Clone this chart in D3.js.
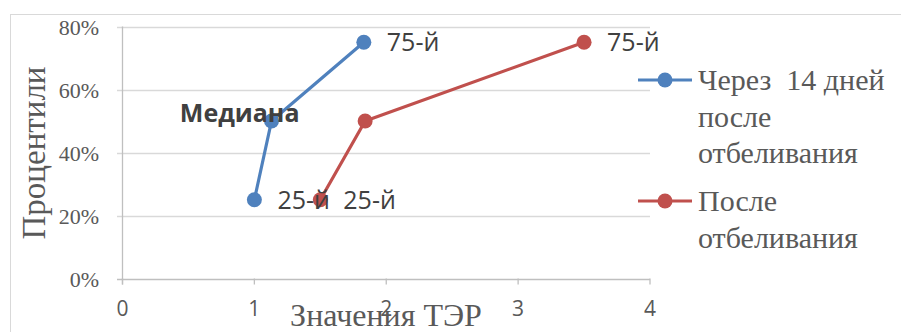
<!DOCTYPE html>
<html lang="ru">
  <head>
    <meta charset="utf-8">
    <script src="https://d3js.org/d3.v7.min.js"></script>
    <style>
      body { margin: 0; background: #fff; }
      svg { display: block; }
    </style>
  </head>
  <body>
    <script>

    // data
    var percentiles = [0.25, 0.5, 0.75];
    var blueX = [1.0, 1.13, 1.83];
    var redX = [1.5, 1.84, 3.5];
    var blueLabels = ["25-й", "Медиана", "75-й"];
    var redLabels = ["25-й", "", "75-й"];
    var seriesNames = [["Через  14 дней", "после", "отбеливания"], ["После", "отбеливания"]];
    var seriesColors = ["#4f81bd", "#c0504d"];
    var xTicks = [0, 1, 2, 3, 4];
    var yTicks = [0, 0.2, 0.4, 0.6, 0.8];

    var W = 901, H = 332;

    var x = d3.scaleLinear().domain([0, 4]).range([122.5, 650]);
    var y = d3.scaleLinear().domain([0, 0.8]).range([278.5, 26.5]);

    var svg = d3.select("body").append("svg")
        .attr("width", W)
        .attr("height", H);

    // chart frame
    svg.append("rect")
        .attr("x", 10.5).attr("y", 14.5)
        .attr("width", 900).attr("height", 330)
        .attr("fill", "none")
        .attr("stroke", "#d9d9d9");

    // gridlines
    svg.append("g")
      .selectAll("line")
      .data(yTicks)
      .enter().append("line")
        .attr("x1", 117).attr("x2", x(4))
        .attr("y1", function(d){ return Math.round(y(d)) + 0.5; })
        .attr("y2", function(d){ return Math.round(y(d)) + 0.5; })
        .attr("stroke", function(d){ return d === 0 ? "#bfbfbf" : "#d9d9d9"; })
        .attr("stroke-width", 1.3);

    // y axis line
    svg.append("line")
        .attr("x1", x(0)).attr("x2", x(0))
        .attr("y1", y(0.8)).attr("y2", y(0) + 6)
        .attr("stroke", "#bfbfbf").attr("stroke-width", 1.3);

    // x ticks
    svg.append("g")
      .selectAll("line")
      .data(xTicks)
      .enter().append("line")
        .attr("x1", function(d){ return x(d); })
        .attr("x2", function(d){ return x(d); })
        .attr("y1", y(0)).attr("y2", y(0) + 6)
        .attr("stroke", "#bfbfbf").attr("stroke-width", 1.3);

    svg.append("g")
      .selectAll("text")
      .data(xTicks)
      .enter().append("text")
        .attr("x", function(d){ return x(d); })
        .attr("y", 316)
        .attr("text-anchor", "middle")
        .attr("font-family", "'Open Sans', sans-serif")
        .attr("font-size", 21)
        .attr("fill", "#595959")
        .text(function(d){ return d; });

    svg.append("g")
      .selectAll("text")
      .data(yTicks)
      .enter().append("text")
        .attr("x", 99)
        .attr("y", function(d){ return y(d) + 8; })
        .attr("text-anchor", "end")
        .attr("font-family", "'Liberation Serif', serif")
        .attr("font-size", 22)
        .attr("fill", "#595959")
        .text(function(d){ return Math.round(d * 100) + "%"; });

    // axis titles
    svg.append("text")
        .attr("transform", "translate(45,153) rotate(-90)")
        .attr("text-anchor", "middle")
        .attr("font-family", "'Liberation Serif', serif")
        .attr("font-size", 33)
        .attr("fill", "#595959")
        .text("Процентили");

    svg.append("text")
        .attr("x", 386).attr("y", 326)
        .attr("text-anchor", "middle")
        .attr("font-family", "'Liberation Serif', serif")
        .attr("font-size", 32)
        .attr("fill", "#595959")
        .text("Значения ТЭР");

    var series = [
      { xs: blueX, labels: blueLabels, color: seriesColors[0] },
      { xs: redX, labels: redLabels, color: seriesColors[1] }
    ];

    var line = d3.line()
        .x(function(d){ return x(d.x); })
        .y(function(d){ return y(d.y); });

    series.forEach(function(s){
      var pts = s.xs.map(function(v, i){ return { x: v, y: percentiles[i], label: s.labels[i] }; });
      s.pts = pts;
      svg.append("path")
          .datum(pts)
          .attr("d", line)
          .attr("fill", "none")
          .attr("stroke", s.color)
          .attr("stroke-width", 3.2)
          .attr("stroke-linejoin", "round");
      svg.append("g")
        .selectAll("circle")
        .data(pts)
        .enter().append("circle")
          .attr("cx", function(d){ return x(d.x); })
          .attr("cy", function(d){ return y(d.y); })
          .attr("r", 7.5)
          .attr("fill", s.color);
    });

    // data labels
    series.forEach(function(s){
      svg.append("g")
        .selectAll("text")
        .data(s.pts.filter(function(d){ return d.label; }))
        .enter().append("text")
          .attr("x", function(d){ return d.label === "Медиана" ? x(d.x) + 28 : x(d.x) + 23; })
          .attr("y", function(d){ return d.label === "Медиана" ? y(d.y) + 1 : y(d.y) + 9; })
          .attr("text-anchor", function(d){ return d.label === "Медиана" ? "end" : "start"; })
          .attr("font-family", "'Open Sans', sans-serif")
          .attr("font-size", 25)
          .attr("font-weight", function(d){ return d.label === "Медиана" ? "bold" : "normal"; })
          .attr("fill", "#404040")
          .text(function(d){ return d.label; });
    });

    // legend
    var legendY = [80, 201];
    seriesNames.forEach(function(name, i){
      var g = svg.append("g");
      g.append("line")
          .attr("x1", 638).attr("x2", 692)
          .attr("y1", legendY[i]).attr("y2", legendY[i])
          .attr("stroke", seriesColors[i]).attr("stroke-width", 3.2);
      g.append("circle")
          .attr("cx", 665).attr("cy", legendY[i]).attr("r", 7.5)
          .attr("fill", seriesColors[i]);
      g.selectAll("text")
        .data(name)
        .enter().append("text")
          .attr("x", 698)
          .attr("y", function(d, j){ return legendY[i] + 10 + j * 36.5; })
          .attr("font-family", "'Liberation Serif', serif")
          .attr("font-size", 30)
          .attr("fill", "#595959")
          .style("white-space", "pre")
          .text(function(d){ return d; });
    });

    </script>
  </body>
</html>
